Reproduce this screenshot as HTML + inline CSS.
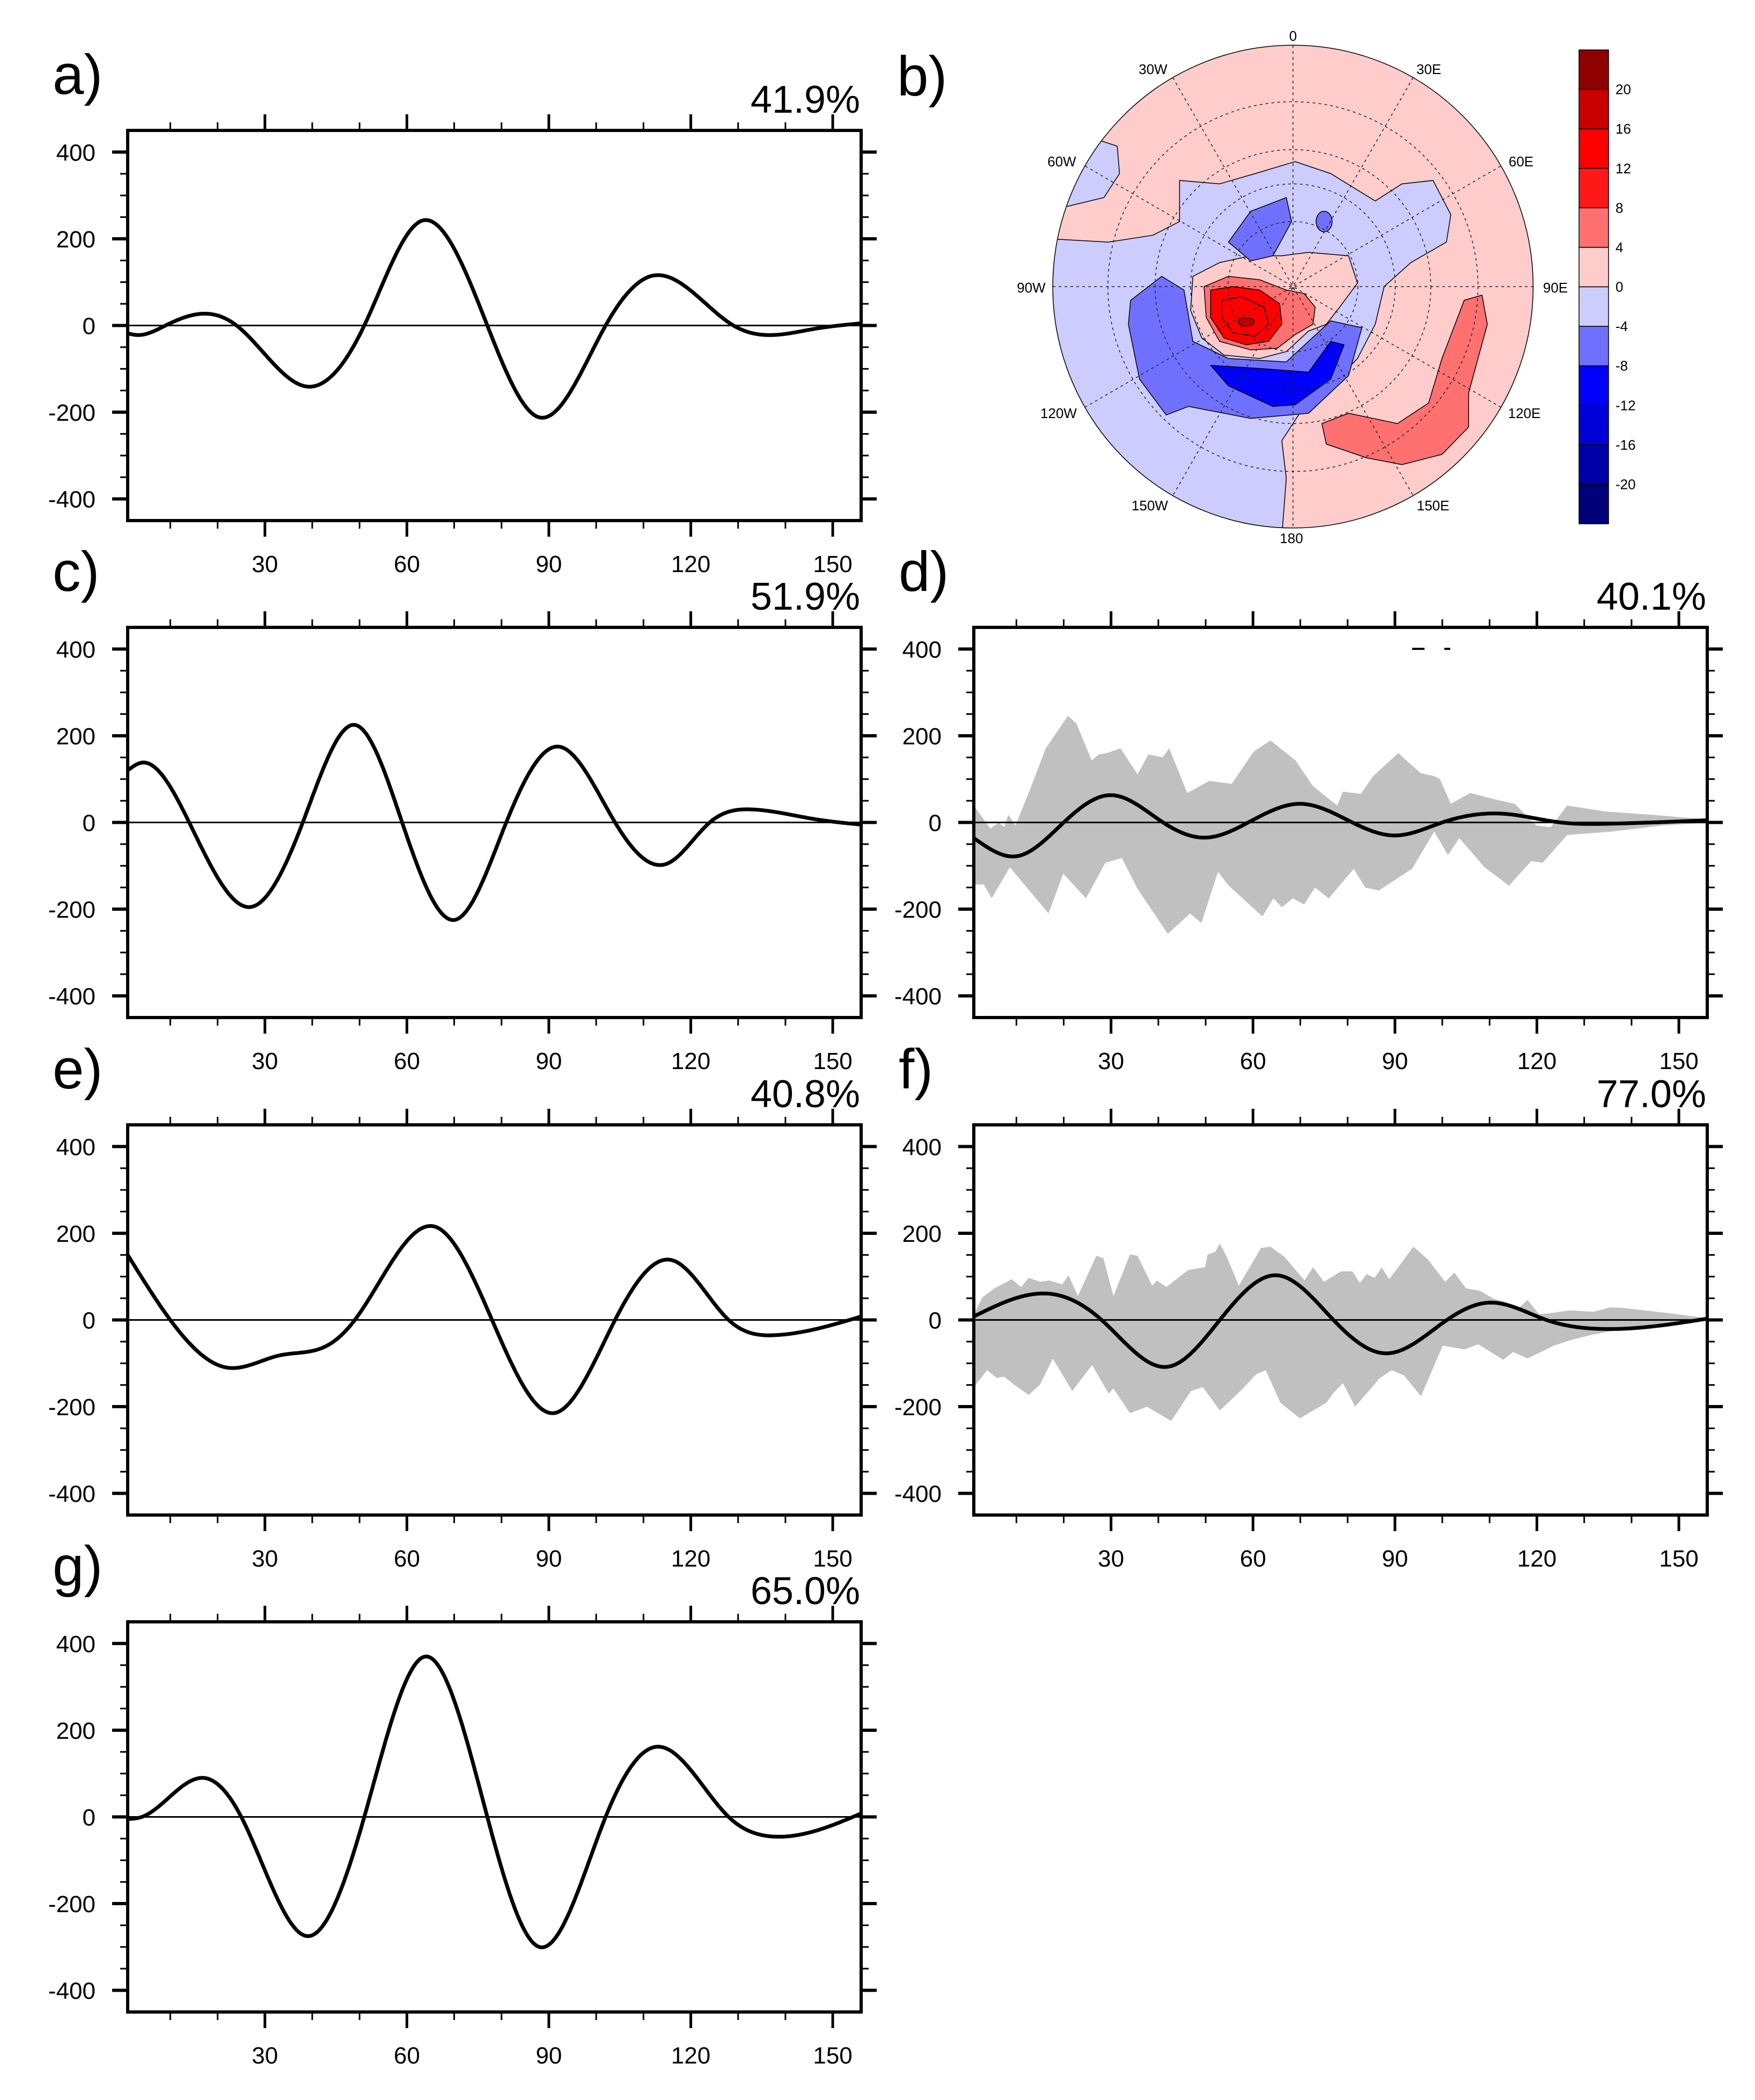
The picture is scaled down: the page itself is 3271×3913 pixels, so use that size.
<!DOCTYPE html>
<html><head><meta charset="utf-8"><style>
html,body{margin:0;padding:0;background:#fff}
svg{display:block}
text{font-family:"Liberation Sans",sans-serif;fill:#000}
</style></head><body>
<svg id="fig" width="3271" height="3913" viewBox="0 0 3271 3913" xmlns="http://www.w3.org/2000/svg">
<defs>
<clipPath id="mapclip"><ellipse cx="615" cy="790" rx="540" ry="705"/></clipPath>
</defs>
<g id="map">
<text x="1672" y="178" font-size="105">b)</text>
<g transform="translate(1900,30) scale(0.829,0.638)">
<g clip-path="url(#mapclip)" stroke="#000" stroke-width="1.5" vector-effect="non-scaling-stroke">
<rect x="0" y="0" width="1300" height="1600" fill="#ffcccc" stroke="none"/>
<path fill="#ccccff" vector-effect="non-scaling-stroke" d="M60,650 L200,660 L300,640 L360,600 L360,480 L450,490 L530,460 L620,425 L700,460 L800,540 L860,490 L930,480 L970,580 L960,660 L880,720 L820,790 L800,900 L760,1000 L700,1080 L630,1160 L590,1240 L600,1350 L590,1520 L0,1520 Z"/>
<path fill="#ccccff" vector-effect="non-scaling-stroke" d="M60,330 L150,350 L220,380 L225,460 L190,530 L110,555 L60,560 Z"/>
<path fill="#ffcccc" vector-effect="non-scaling-stroke" d="M390,760 L450,720 L520,700 L590,700 L650,690 L740,700 L760,780 L720,850 L690,900 L650,920 L600,980 L540,1000 L460,990 L410,940 L385,860 Z"/>
<path fill="#ff7070" vector-effect="non-scaling-stroke" d="M415,790 L470,760 L540,770 L600,800 L640,810 L665,850 L660,900 L620,930 L580,970 L520,975 L450,950 L420,880 Z"/>
<path fill="#ff0000" vector-effect="non-scaling-stroke" d="M430,800 L480,790 L540,800 L585,840 L590,900 L560,950 L510,960 L460,940 L430,880 Z"/>
<path fill="none" vector-effect="non-scaling-stroke" d="M455,830 L500,820 L550,850 L560,900 L530,935 L480,925 L455,880 Z"/>
<ellipse cx="510" cy="893" rx="18" ry="12" fill="#c00000" vector-effect="non-scaling-stroke"/>
<path fill="#7070ff" vector-effect="non-scaling-stroke" d="M250,830 L320,760 L370,800 L390,950 L470,1000 L600,1010 L700,890 L770,910 L740,1050 L650,1160 L520,1175 L380,1140 L330,1165 L270,1060 L245,900 Z"/>
<path fill="#0000ff" vector-effect="non-scaling-stroke" d="M430,1020 L550,1030 L650,1040 L700,950 L730,960 L700,1060 L620,1135 L570,1140 L470,1080 Z"/>
<path fill="#7070ff" vector-effect="non-scaling-stroke" d="M470,660 L520,570 L600,530 L612,600 L570,700 L520,715 Z"/>
<ellipse cx="685" cy="600" rx="18" ry="30" fill="#7070ff" vector-effect="non-scaling-stroke"/>
<path fill="#ff7070" vector-effect="non-scaling-stroke" d="M950,1000 L1000,830 L1040,815 L1052,900 L1010,1100 L1010,1200 L950,1280 L860,1310 L780,1290 L690,1250 L680,1190 L740,1160 L850,1190 L920,1130 Z"/>
<g fill="none" stroke="#222" stroke-dasharray="5,6" vector-effect="non-scaling-stroke">
<ellipse cx="615" cy="790" rx="146" ry="190" vector-effect="non-scaling-stroke"/>
<ellipse cx="615" cy="790" rx="230" ry="300" vector-effect="non-scaling-stroke"/>
<ellipse cx="615" cy="790" rx="310" ry="400" vector-effect="non-scaling-stroke"/>
<ellipse cx="615" cy="790" rx="416" ry="540" vector-effect="non-scaling-stroke"/>
<line x1="615" y1="85" x2="615" y2="1495" vector-effect="non-scaling-stroke"/>
<line x1="75" y1="790" x2="1155" y2="790" vector-effect="non-scaling-stroke"/>
<line x1="345" y1="180" x2="885" y2="1400" vector-effect="non-scaling-stroke"/>
<line x1="885" y1="180" x2="345" y2="1400" vector-effect="non-scaling-stroke"/>
<line x1="148" y1="438" x2="1082" y2="1142" vector-effect="non-scaling-stroke"/>
<line x1="1082" y1="438" x2="148" y2="1142" vector-effect="non-scaling-stroke"/>
</g>
</g>
<ellipse cx="615" cy="790" rx="540" ry="705" fill="none" stroke="#000" stroke-width="1.5" vector-effect="non-scaling-stroke"/>
</g>
<g font-size="26" text-anchor="middle">
<text x="2410" y="76">0</text><text x="2663" y="138">30E</text><text x="2835" y="310">60E</text>
<text x="2899" y="545">90E</text><text x="2841" y="779">120E</text><text x="2671" y="951">150E</text>
<text x="2407" y="1012">180</text><text x="2143" y="951">150W</text><text x="1973" y="779">120W</text>
<text x="1922" y="545">90W</text><text x="1979" y="310">60W</text><text x="2149" y="138">30W</text>
</g>
<g id="cbar"></g>
</g>
<g id="panels"></g>
</svg>
<script>
const NS="http://www.w3.org/2000/svg";
const xTicks=[30,60,90,120,150];
const yTicks=[-400,-200,0,200,400];
const cbLevels=[20,16,12,8,4,0,-4,-8,-12,-16,-20];
const cbColors=["#8f0000","#c80000","#ff0000","#ff1818","#ff7070","#ffcccc","#ccccff","#7070ff","#0000ff","#0000d8","#0000a8","#000078"];

const aX=[1,3,9,18,24,39,51,63,77,88,102,112,129,136,146,156];
const aY=[-18,-22,0,27,0,-141,0,241,0,-212,0,115,0,-22,-8,5];
const cX=[1,4,14,27,38,49,59,70,81,92,104,115,124,133,146,156];
const cY=[120,138,0,-195,0,225,0,-225,0,175,0,-95,0,30,8,-5];
const eX=[1,10,22,33,43,49,66,78,91,104,116,128,138,156];
const eY=[150,0,-110,-82,-60,0,215,0,-215,0,138,0,-35,8];
const gX=[1,4,17,25,39,51,64,77,88,102,113,128,137,156];
const gY=[-5,0,90,0,-275,0,370,0,-300,0,162,0,-45,8];
const dX=[1,10,20,30,41,50,59,70,81,90,100,113,125,135,156];
const dY=[-36,-78,0,63,0,-35,0,43,0,-30,0,20,0,-3,5];
const fX=[1,18,28,42,53,65,77,88,101,110,122,132,156];
const fY=[8,59,0,-108,0,103,0,-77,0,40,0,-20,3];

const dUpX=[1,4.5,6.3,7.4,8.3,9.8,12.7,16.2,20.9,22.7,25.9,27.4,29.1,32,35.6,37.9,40.9,42.3,46.1,50.8,55.5,60.2,63.7,69,72.5,74.9,77.8,79,82.8,85.4,90.7,95.4,98.3,99.5,101.8,105.9,111.2,115.3,119.9,122.9,126.4,134.6,144,156];
const dUpY=[39,-14,0,-11,18,-7,71,171,246,228,143,157,160,171,111,157,150,171,68,96,89,164,189,143,86,64,39,71,66,107,160,114,107,100,43,68,53,43,-7,-11,39,25,18,7];
const dLoX=[1,3.1,4.8,8.6,16.8,19.9,24.7,28.8,32.3,35.6,42,46.7,49.1,52.6,54.9,62,64.3,66.1,68.4,70.8,73.1,76,81.3,83.7,86.6,93.6,98.3,101.2,103.6,108.9,114.1,118.8,121.2,126.4,135.8,146.4,156];
const dLoY=[-143,-143,-175,-103,-210,-118,-175,-93,-82,-153,-257,-210,-232,-114,-146,-217,-175,-196,-175,-189,-150,-175,-107,-150,-157,-107,-21,-75,-36,-103,-146,-89,-93,-29,-21,-7,-1];
const fUpX=[1,2.8,5.4,9,11,12.6,15,17,19.7,21,23,26.9,28.4,30.5,34,35.6,38.7,39.7,41.7,46.3,49.9,50.4,52,53,54.5,57,61.7,63.7,66.7,70.9,72.7,75,78.6,81,82.6,84,85.7,87.2,88.8,93.9,97,100.6,102.6,105,108,110.8,113,115.9,118,120.5,123,127,132,135.5,138,147.7,156];
const fUpY=[13,52,73,94,76,97,88,91,82,103,55,148,142,55,151,148,79,91,76,115,122,151,157,176,145,79,166,169,145,91,122,88,112,112,85,106,97,121,94,169,139,88,109,73,67,49,43,25,46,13,16,22,19,29,28,16,4];
const fLoX=[1,3.8,5.9,7.4,9.5,12.6,15,17.7,21.8,26,29.5,30.5,34,37.6,42.7,46.9,49.4,53,57.6,60.7,62.7,65.8,69.9,75.5,77.1,79,81.6,86.8,89.3,91.9,95.5,100.1,104.7,107.6,112.9,115,118,123.6,127,131.3,138.5,144.6,156];
const fLoY=[-155,-116,-134,-131,-149,-173,-149,-89,-164,-104,-170,-158,-215,-200,-233,-164,-155,-209,-161,-125,-116,-191,-227,-191,-167,-146,-200,-134,-116,-128,-176,-59,-68,-56,-92,-74,-89,-59,-47,-35,-20,-11,-2];

function el(tag,attrs,parent){const e=document.createElementNS(NS,tag);for(const k in attrs)e.setAttribute(k,attrs[k]);parent.appendChild(e);return e;}

const cb=document.getElementById('cbar');
const cbTop=93,cbH=883,cbL=2943,cbW=55,bh=cbH/cbColors.length;
cbColors.forEach((c,i)=>{
  const r=el('rect',{x:cbL,y:cbTop+i*bh,width:cbW,height:bh,fill:c,stroke:'#000','stroke-width':1.5},cb);
  
  
});
cbLevels.forEach((v,i)=>{
  const t=el('text',{x:3011,y:cbTop+(i+1)*bh+9,'font-size':26},cb);
  t.textContent=v;
  
  
});

// natural cubic spline
function spline(xs,ys){
  const n=xs.length,h=[],al=[0],l=[1],mu=[0],z=[0],c=new Array(n).fill(0),b=[],d=[];
  for(let i=0;i<n-1;i++)h.push(xs[i+1]-xs[i]);
  for(let i=1;i<n-1;i++)al.push(3/h[i]*(ys[i+1]-ys[i])-3/h[i-1]*(ys[i]-ys[i-1]));
  for(let i=1;i<n-1;i++){l[i]=2*(xs[i+1]-xs[i-1])-h[i-1]*mu[i-1];mu[i]=h[i]/l[i];z[i]=(al[i]-h[i-1]*z[i-1])/l[i];}
  l[n-1]=1;z[n-1]=0;
  for(let j=n-2;j>=0;j--){c[j]=z[j]-mu[j]*c[j+1];b[j]=(ys[j+1]-ys[j])/h[j]-h[j]*(c[j+1]+2*c[j])/3;d[j]=(c[j+1]-c[j])/(3*h[j]);}
  return x=>{let i=0;while(i<n-2&&x>xs[i+1])i++;const t=x-xs[i];return ys[i]+b[i]*t+c[i]*t*t+d[i]*t*t*t;};
}

const root=document.getElementById('panels');
function panel(name,left,top,letter,pct,xs,ys,band){
  const W=1367,H=727;
  const sx=v=>left+(v-1)/155*W;
  const sy=v=>top+(450-v)/900*H;
  const g=el('g',{},root);
  
  
  const lab=el('text',{x:left-140,y:top-68,'font-size':105},g);
  lab.textContent=letter+')';
  
  
  const pt=el('text',{x:left+W-2,y:top-33,'font-size':72,'text-anchor':'end'},g);
  pt.textContent=pct;
  
  
  if(band){
    let pts=band[0].map((x,i)=>sx(x).toFixed(1)+','+sy(band[1][i]).toFixed(1));
    for(let i=band[2].length-1;i>=0;i--)pts.push(sx(band[2][i]).toFixed(1)+','+sy(band[3][i]).toFixed(1));
    const b=el('polygon',{points:pts.join(' '),fill:'#c0c0c0'},g);
    
    
  }
  const z=el('line',{x1:left,x2:left+W,y1:sy(0),y2:sy(0),stroke:'#000','stroke-width':3},g);
  
  
  const f0=spline(xs,ys);
  let d='';
  const x0=xs[0],x1=xs[xs.length-1];
  for(let k=0;k<=600;k++){const x=x0+(x1-x0)*k/600;d+=(k?'L':'M')+sx(x).toFixed(1)+','+sy(f0(x)).toFixed(1);}
  const c=el('path',{d:d,fill:'none',stroke:'#000','stroke-width':7,'stroke-linejoin':'round'},g);
  
  
  const f=el('rect',{x:left,y:top,width:W,height:H,fill:'none',stroke:'#000','stroke-width':6},g);
  
  
  for(let v=10;v<=150;v+=10){
    const maj=v%30===0,L=maj?30:15,sw=maj?5:3,x=sx(v);
    el('line',{x1:x,x2:x,y1:top,y2:top-L,stroke:'#000','stroke-width':sw},g);
    el('line',{x1:x,x2:x,y1:top+H,y2:top+H+L,stroke:'#000','stroke-width':sw},g);
  }
  for(let v=-400;v<=400;v+=50){
    const maj=v%200===0,L=maj?29:14,sw=maj?6:3,y=sy(v);
    el('line',{x1:left,x2:left-L,y1:y,y2:y,stroke:'#000','stroke-width':sw},g);
    el('line',{x1:left+W,x2:left+W+L,y1:y,y2:y,stroke:'#000','stroke-width':sw},g);
  }
  xTicks.forEach(v=>{
    const t=el('text',{x:sx(v),y:top+H+96,'font-size':44,'text-anchor':'middle'},g);
    t.textContent=v;
    
    
  });
  yTicks.forEach(v=>{
    const t=el('text',{x:left-60,y:sy(v)+16,'font-size':44,'text-anchor':'end'},g);
    t.textContent=v;
    
    
  });
  return g;
}
const LX=238,RX=1815,T=[243,1169,2096,3022];
panel('a',LX,T[0],'a','41.9%',aX,aY,null);
panel('c',LX,T[1],'c','51.9%',cX,cY,null);
const gd=panel('d',RX,T[1],'d','40.1%',dX,dY,[dUpX,dUpY,dLoX,dLoY]);
el('line',{x1:2632,x2:2655,y1:1209,y2:1209,stroke:'#000','stroke-width':4},gd);
el('line',{x1:2692,x2:2703,y1:1209,y2:1209,stroke:'#000','stroke-width':4},gd);
panel('e',LX,T[2],'e','40.8%',eX,eY,null);
panel('f',RX,T[2],'f','77.0%',fX,fY,[fUpX,fUpY,fLoX,fLoY]);
panel('g',LX,T[3],'g','65.0%',gX,gY,null);
</script>
</body></html>
